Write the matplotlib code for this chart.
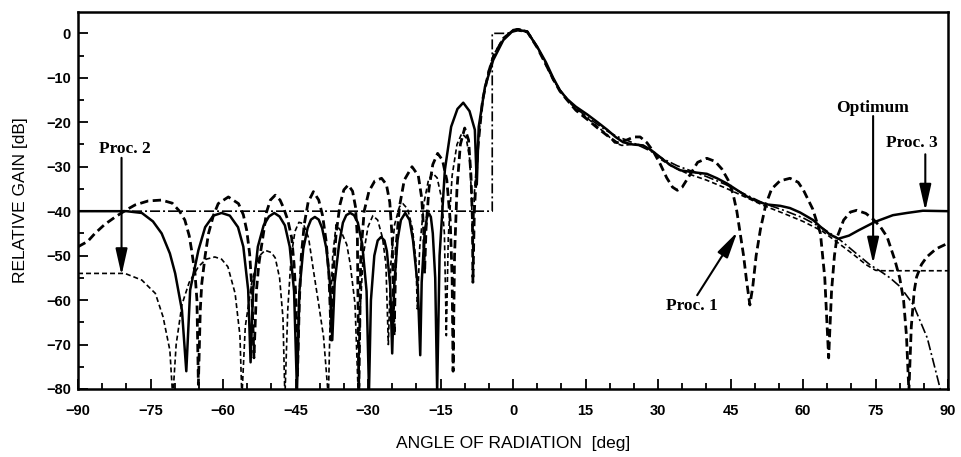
import matplotlib
matplotlib.use("Agg")
import matplotlib.pyplot as plt
from matplotlib.ticker import MultipleLocator

# ---------------- data ----------------
# Proc. 3 (solid)
proc3_ang = [-90, -85, -80, -76.8, -74.5, -72.7, -71.0, -69.9, -68.5, -67.6,
             -66.8, -65.1, -63.7, -62.0, -60.3, -58.6, -56.9, -55.8, -54.8, -54.3,
             -53.8, -52.8, -51.6, -50.5, -49.4, -48.3, -47.2, -46.2, -45.3, -44.7,
             -44.2, -43.4, -42.5, -41.8, -41.0, -40.2, -39.5, -38.6, -37.9, -37.4,
             -36.9, -36.0, -35.2, -34.5, -33.7, -32.9, -32.1, -31.2, -30.3, -29.8,
             -29.4, -28.7, -28.0, -27.3, -26.6, -26.1, -25.4, -25.0,
             -24.6, -23.9, -23.2, -22.3, -21.4, -20.7, -19.7, -19.2,
             -18.9, -18.3, -17.8, -17.4, -17.0, -16.6, -16.1, -15.7,
             -15.2, -14.1, -12.8, -11.5, -10.3, -9.0, -7.9, -7.5,
             -7.1, -5.8, -4.1, -2.0, 0.0, 1.0, 2.9, 5.0, 6.8, 8.3, 9.7, 11.2,
             13.0, 15.3, 17.5, 19.5, 21.2, 22.8, 24.8, 26.9, 28.5, 30.4, 32.5,
             34.6, 37.0, 40.1, 42.2, 44.3, 46.4, 48.4, 50.5, 52.6, 55.3, 57.3,
             59.4, 62.1, 63.6, 65.5, 67.3, 69.5, 71.5, 74.9, 78.6, 81.5, 84.8, 90.0]
proc3_db = [-40.0, -40.0, -40.0, -40.4, -42.3, -45.0, -49.5, -54.0, -62.3, -76.0,
            -57.7, -48.8, -43.6, -41.0, -40.4, -41.0, -43.6, -48.0, -57.7, -74.0,
            -58.0, -48.0, -43.2, -41.2, -40.4, -41.2, -43.2, -48.0, -58.0, -80.5,
            -58.0, -48.5, -43.8, -41.9, -41.3, -41.9, -43.8, -48.5, -56.0, -69.0,
            -56.0, -47.5, -42.6, -40.9, -40.4, -40.9, -42.6, -47.5, -58.0, -80.5,
            -60.0, -50.0, -46.6, -45.8, -46.6, -49.0, -57.0, -72.0,
            -57.0, -46.5, -42.0, -40.4, -42.0, -46.5, -57.0, -72.4,
            -56.0, -45.0, -41.3, -40.5, -41.3, -45.0, -55.0, -80.5,
            -50.0, -30.7, -21.0, -17.0, -15.6, -17.5, -21.7, -34.0,
            -21.0, -12.0, -6.0, -1.5, 0.6, 0.8, 0.4, -3.0, -6.5, -10.0, -12.8, -14.8,
            -16.5, -18.2, -20.0, -21.7, -23.3, -24.5, -25.0, -25.2, -26.2, -27.8, -29.6,
            -30.8, -31.2, -31.6, -32.6, -33.8, -35.3, -36.7, -37.8, -38.5, -38.8, -39.3,
            -40.3, -42.0, -43.5, -45.2, -46.2, -45.5, -44.3, -42.4, -40.9, -40.4, -39.9, -40.0]

# Proc. 1 (heavy dashed)
proc1_ang = [-90, -88, -86.5, -84.5, -82.3, -80.0, -78.2, -75.5, -72.7, -70.5, -69.0,
             -67.9, -67.0, -66.5, -65.8, -65.4, -65.1,
             -64.7, -64.4, -63.7, -63.0, -62.0, -61.0, -58.9, -56.8, -55.8, -55.1,
             -54.5, -54.1, -53.6,
             -53.1, -52.6, -52.2, -51.5, -51.0, -50.2, -49.2, -48.2, -47.5, -46.6,
             -45.8, -45.3, -44.9, -44.6,
             -44.2, -43.8, -43.2, -42.4, -41.3, -40.2, -39.4, -38.7, -38.1, -37.6,
             -37.2, -36.6, -35.8, -35.0, -34.1, -33.2, -32.6, -32.2, -31.9,
             -31.5, -30.8, -29.8, -28.6, -27.2, -26.2, -25.5, -25.0, -24.6,
             -24.2, -23.5, -22.5, -20.9, -19.6, -18.9, -18.5, -18.3,
             -18.0, -17.4, -16.6, -15.6, -14.6, -13.7, -13.0, -12.6, -12.4,
             -12.1, -11.6, -10.9, -10.0, -9.2, -8.7, -8.4, -8.3,
             -8.0, -7.3, -6.3, -5.0, -4.0, -2.0, 0.0, 1.0, 3.0, 5.0, 6.8, 8.3,
             9.7, 11.2, 13.0, 15.3, 17.5, 19.5, 21.5, 23.5, 25.0, 26.3, 27.7,
             29.0, 30.5, 31.8, 33.0, 34.0, 35.0, 36.5, 38.2, 40.1, 41.8, 43.2,
             44.5, 45.5, 46.3, 47.0, 47.7, 48.3, 49.0, 49.6, 50.3, 51.2, 52.3,
             53.5, 55.2, 57.3, 59.0, 60.1, 62.0, 63.6, 64.5, 65.3,
             65.9, 66.5, 67.0, 68.4, 69.8, 71.1, 73.0, 74.5, 76.0, 77.4, 79.0,
             80.0, 80.8, 81.4, 81.9, 82.4, 83.0, 83.5, 84.5, 85.6, 87.5, 89.8, 90.0]
proc1_db = [-48.0, -46.8, -45.0, -43.0, -41.3, -39.7, -38.6, -37.7, -37.5, -38.2, -40.0,
            -42.0, -45.5, -48.8, -54.0, -60.0, -79.0,
            -62.0, -56.3, -50.0, -45.0, -41.0, -38.3, -36.8, -38.3, -40.8, -44.3,
            -49.5, -56.3, -73.0,
            -58.0, -52.0, -49.0, -44.0, -40.2, -37.5, -36.4, -37.5, -39.2, -42.0,
            -46.0, -52.0, -60.0, -77.0,
            -60.0, -50.0, -43.0, -38.0, -35.6, -37.5, -41.0, -46.5, -54.0, -69.0,
            -54.0, -45.0, -38.5, -35.2, -34.1, -35.5, -39.0, -46.0, -80.5,
            -50.0, -40.0, -35.5, -33.2, -32.6, -34.0, -38.0, -46.0, -68.0,
            -48.0, -39.0, -33.0, -30.0, -32.0, -37.0, -44.0, -54.0,
            -44.0, -35.0, -29.5, -27.0, -28.5, -33.0, -42.0, -55.0, -76.0,
            -50.0, -35.0, -25.0, -21.3, -24.0, -32.0, -42.0, -56.0,
            -40.0, -26.0, -15.0, -8.5, -5.0, -1.2, 0.7, 0.9, 0.3, -3.2, -7.0, -10.3,
            -13.0, -15.0, -17.3, -19.3, -21.3, -23.0, -24.6, -24.0, -23.3, -23.3, -24.6,
            -26.5, -29.5, -32.5, -34.6, -35.3, -34.6, -32.0, -29.0, -28.1, -28.8, -30.5,
            -33.0, -36.0, -40.0, -45.0, -50.0, -55.5, -61.1, -57.0, -50.0, -44.0, -38.5,
            -35.0, -33.2, -32.6, -33.5, -35.3, -39.5, -45.0, -55.0, -73.0,
            -58.0, -50.0, -46.0, -42.0, -40.2, -39.8, -40.5, -41.8, -43.5, -45.8, -51.0,
            -55.0, -60.0, -68.0, -80.5, -66.0, -58.0, -54.8, -52.0, -50.3, -48.5, -47.3, -47.2]

# Proc. 2 (fine dashed)
proc2_ang = [-90, -85, -80.3, -76.8, -74.0, -72.4, -71.0, -70.4,
             -69.7, -68.5, -67.0, -65.1, -63.5, -61.7, -60.3, -59.0, -57.5, -56.5, -56.1,
             -55.4, -54.1, -52.7, -51.3, -50.0, -49.2, -48.3, -47.6, -47.2,
             -46.6, -45.9, -45.1, -44.3, -43.4, -42.3, -41.3, -40.2, -39.2, -38.2,
             -37.8, -37.3, -36.6, -35.6, -34.4, -33.7, -32.7, -32.0,
             -31.6, -31.0, -30.0, -29.0, -28.0, -27.0, -26.3, -25.8,
             -25.3, -24.5, -23.5, -22.8, -21.8, -20.8, -20.1, -19.8,
             -19.3, -18.4, -17.5, -16.6, -15.7, -14.8, -14.2, -13.8,
             -13.4, -12.6, -11.6, -10.6, -9.7, -9.0, -8.6, -8.3,
             -8.0, -7.2, -6.2, -5.0, -4.0, -2.0, 0.0, 1.0, 3.0, 5.0, 8.3, 11.2,
             13.0, 15.3, 17.5, 19.5, 21.0, 22.5, 24.5, 26.5, 28.5, 30.5, 33.0,
             36.0, 40.0, 44.0, 48.0, 52.0, 56.0, 60.0, 64.0, 67.7, 70.5, 73.0,
             75.0, 76.5, 80.0, 85.0, 90.0]
proc2_db = [-54.0, -54.0, -54.0, -55.5, -58.5, -63.8, -71.3, -82.0,
            -70.0, -61.0, -56.0, -52.5, -50.8, -50.3, -50.8, -52.5, -58.5, -68.0, -82.0,
            -66.0, -56.3, -50.3, -48.8, -49.3, -50.5, -55.0, -64.0, -82.0,
            -62.0, -50.0, -44.5, -42.5, -42.8, -46.0, -53.3, -61.0, -68.3, -82.0,
            -62.0, -50.0, -43.0, -44.5, -47.5, -51.8, -60.8, -82.0,
            -62.0, -50.0, -43.5, -41.0, -42.0, -46.0, -52.0, -70.0,
            -52.0, -43.0, -39.0, -38.3, -39.5, -44.0, -51.0, -62.0,
            -48.0, -38.0, -33.0, -31.5, -32.5, -37.0, -45.0, -68.0,
            -46.0, -32.0, -25.0, -22.5, -23.5, -28.0, -36.0, -50.0,
            -36.0, -24.0, -14.5, -8.2, -4.8, -1.0, 0.8, 1.0, 0.5, -3.0, -10.5, -15.0,
            -17.0, -19.0, -21.0, -22.8, -24.6, -25.2, -25.0, -25.0, -26.3, -28.3, -30.0,
            -31.5, -33.0, -34.8, -36.8, -38.8, -40.5, -42.3, -44.5, -47.5, -49.8, -52.0,
            -53.3, -53.4, -53.4, -53.4, -53.4]

# Optimum (dash-dot)
opt_ang = [-90, -4.3, -4.3, -1.2, 1.0, 3.0, 5.0, 6.8, 8.3, 9.7, 11.2, 13.0, 15.3,
           17.5, 19.5, 21.5, 23.5, 26.0, 28.5, 31.0, 34.0, 37.0, 40.0, 44.0, 48.0,
           52.0, 56.0, 60.0, 64.0, 67.7, 71.0, 73.9, 76.0, 78.0, 80.1, 82.8, 85.7,
           88.0, 88.6]
opt_db = [-40.0, -40.0, 0.0, 0.0, 0.6, 0.2, -3.0, -6.8, -10.2, -12.8, -14.7, -16.8, -18.8,
          -20.5, -22.0, -23.2, -24.0, -25.2, -26.5, -28.2, -29.8, -31.0, -32.2, -34.0, -36.2,
          -38.3, -39.8, -41.5, -43.8, -46.5, -49.5, -52.1, -53.5, -55.0, -57.0, -61.0, -68.5,
          -78.3, -81.0]

x_ticks = [-90, -75, -60, -45, -30, -15, 0, 15, 30, 45, 60, 75, 90]
y_ticks = [0, -10, -20, -30, -40, -50, -60, -70, -80]

# annotations: (label, text position, arrow start, arrow end)
notes = [
    ("Proc. 2", (-80.3, -26.0), (-81.0, -28.0), (-81.0, -54.4)),
    ("Optimum", (74.3, -16.8), (74.5, -18.6), (74.5, -51.8)),
    ("Proc. 3", (82.6, -24.7), (85.3, -27.2), (85.3, -39.9)),
    ("Proc. 1", (37.0, -61.4), (38.1, -58.9), (46.4, -44.7)),
]

# ---------------- figure ----------------
fig = plt.figure(figsize=(9.61, 4.57), dpi=100)
ax = fig.add_axes([0.0812, 0.1488, 0.9053, 0.8249])

ax.plot(opt_ang, opt_db, color="black", lw=1.2, linestyle=(0, (6, 1.8, 1.2, 1.8)))
ax.plot(proc2_ang, proc2_db, color="black", lw=1.2, linestyle=(0, (3.0, 1.8)))
ax.plot(proc1_ang, proc1_db, color="black", lw=2.0, linestyle=(0, (3.0, 1.6)))
ax.plot(proc3_ang, proc3_db, color="black", lw=1.8, linestyle="-")

ax.set_xlim(-90, 90)
ax.set_ylim(-80, 4.8)
ax.set_xticks(x_ticks)
ax.set_yticks(y_ticks)
ax.xaxis.set_minor_locator(MultipleLocator(5))
ax.yaxis.set_minor_locator(MultipleLocator(5))
ax.tick_params(which="both", direction="in", top=False, right=False, width=1.3)
ax.tick_params(which="major", length=7)
ax.tick_params(which="minor", length=4)
ax.tick_params(axis="x", which="major", pad=11)
ax.tick_params(axis="y", which="major", pad=5)
for lab in ax.get_xticklabels() + ax.get_yticklabels():
    lab.set_fontfamily("Liberation Sans")
    lab.set_fontweight("bold")
    lab.set_fontsize(10.5)
for sp in ax.spines.values():
    sp.set_linewidth(1.8)

ax.set_xlabel("ANGLE OF RADIATION  [deg]", fontfamily="Liberation Sans",
              fontsize=12.5, labelpad=13)
ax.set_ylabel("RELATIVE GAIN [dB]", fontfamily="Liberation Sans",
              fontsize=12.5, labelpad=13)

for label, tpos, a0, a1 in notes:
    ax.text(tpos[0], tpos[1], label, ha="center", va="center",
            fontfamily="Liberation Serif", fontweight="bold", fontsize=12.5)
    ax.annotate("", xy=a1, xytext=a0,
                arrowprops=dict(arrowstyle="-|>,head_length=0.8,head_width=0.18",
                                mutation_scale=20, color="black", lw=1.5,
                                shrinkA=0, shrinkB=0))

fig.savefig("out.png", dpi=100)
